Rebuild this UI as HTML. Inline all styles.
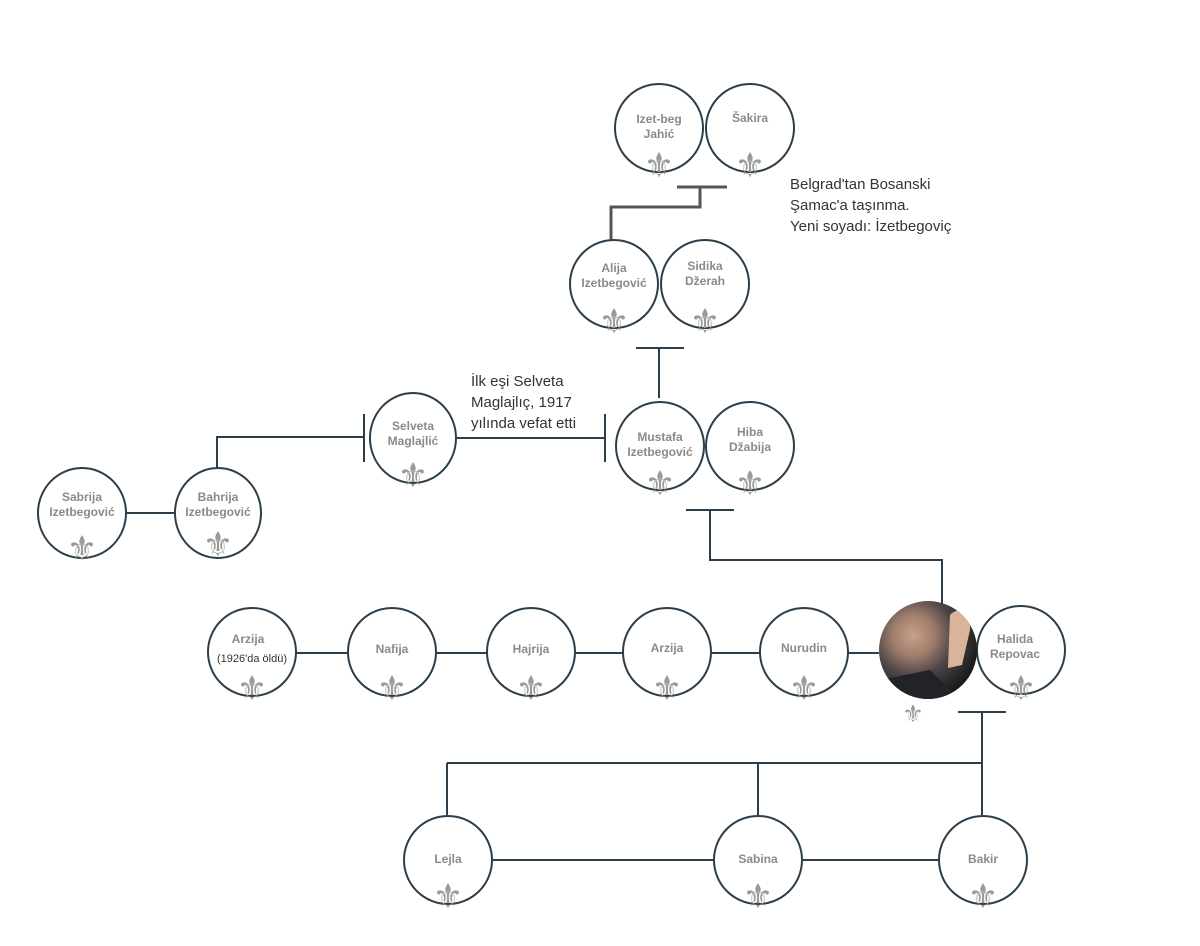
<!DOCTYPE html>
<html><head><meta charset="utf-8"><style>
html,body{margin:0;padding:0;background:#fff;}
svg{display:block}
.n{font-family:"Liberation Sans",sans-serif;font-weight:bold;font-size:12px;fill:#8a8a8a;text-anchor:middle}
.f{font-family:"DejaVu Sans",sans-serif;font-size:34px;fill:#9a9a9a;text-anchor:middle}
.t{font-family:"Liberation Sans",sans-serif;font-size:15px;fill:#333}
</style></head><body>
<svg width="1200" height="946" viewBox="0 0 1200 946" xmlns="http://www.w3.org/2000/svg">
<defs>
<radialGradient id="ph" cx="35%" cy="35%" r="70%">
<stop offset="0" stop-color="#c9a18a"/><stop offset="0.3" stop-color="#a07e6c"/><stop offset="0.6" stop-color="#4a4446"/><stop offset="1" stop-color="#18191c"/>
</radialGradient>
<clipPath id="pc"><circle cx="928" cy="650" r="49"/></clipPath>
</defs>
<g stroke="#555" stroke-width="3" fill="none">
<path d="M677 187H727M700 187V207H611V240"/>
</g>
<g stroke="#2c3e4a" stroke-width="2" fill="none">
<path d="M636 348H684M659 348V398"/>
<path d="M457 438H605M605 414V462"/>
<path d="M364 414V462M364 437H217V490"/>
<path d="M126 513H174"/>
<path d="M686 510H734M710 510V560H942V605"/>
<path d="M296 653H348M436 653H487M575 653H623M711 653H760M848 653H879"/>
<path d="M958 712H1006M982 712V815M447 763H982M447 763V815M758 763V815"/>
<path d="M492 860H714M802 860H939"/>
</g>
<g stroke="#2c3e4a" stroke-width="2" fill="#fff">
<circle cx="659" cy="128" r="44"/><circle cx="750" cy="128" r="44"/>
<circle cx="614" cy="284" r="44"/><circle cx="705" cy="284" r="44"/>
<circle cx="660" cy="446" r="44"/><circle cx="750" cy="446" r="44"/>
<ellipse cx="413" cy="438" rx="43" ry="45"/>
<ellipse cx="218" cy="513" rx="43" ry="45"/><ellipse cx="82" cy="513" rx="44" ry="45"/>
<circle cx="252" cy="652" r="44"/><circle cx="392" cy="652" r="44"/><circle cx="531" cy="652" r="44"/><circle cx="667" cy="652" r="44"/><circle cx="804" cy="652" r="44"/>
<circle cx="1021" cy="650" r="44"/>
<circle cx="448" cy="860" r="44"/><circle cx="758" cy="860" r="44"/><circle cx="983" cy="860" r="44"/>
</g>
<circle cx="928" cy="650" r="49" fill="url(#ph)"/>
<g clip-path="url(#pc)">
<path d="M950 615 C960 605 972 612 970 630 L962 665 L948 668 Z" fill="#d9b39a"/>
<path d="M880 680 L930 670 L960 700 L880 700 Z" fill="#222326"/>
</g>
<g class="n">
<text x="659" y="123">Izet-beg</text><text x="659" y="138">Jahić</text>
<text x="750" y="122">Šakira</text>
<text x="614" y="272">Alija</text><text x="614" y="287">Izetbegović</text>
<text x="705" y="270">Sidika</text><text x="705" y="285">Džerah</text>
<text x="660" y="441">Mustafa</text><text x="660" y="456">Izetbegović</text>
<text x="750" y="436">Hiba</text><text x="750" y="451">Džabija</text>
<text x="413" y="430">Selveta</text><text x="413" y="445">Maglajlić</text>
<text x="218" y="501">Bahrija</text><text x="218" y="516">Izetbegović</text>
<text x="82" y="501">Sabrija</text><text x="82" y="516">Izetbegović</text>
<text x="248" y="643">Arzija</text>
<text x="392" y="653">Nafija</text><text x="531" y="653">Hajrija</text><text x="667" y="652">Arzija</text><text x="804" y="652">Nurudin</text>
<text x="1015" y="643">Halida</text><text x="1015" y="658">Repovac</text>
<text x="448" y="863">Lejla</text><text x="758" y="863">Sabina</text><text x="983" y="863">Bakir</text>
</g>
<text x="252" y="662" style="font-family:'Liberation Sans',sans-serif;font-size:11px;fill:#333;text-anchor:middle">(1926'da öldü)</text>
<g class="f">
<text x="659" y="177">⚜</text><text x="750" y="177">⚜</text>
<text x="614" y="333">⚜</text><text x="705" y="333">⚜</text>
<text x="660" y="495">⚜</text><text x="750" y="495">⚜</text>
<text x="413" y="487">⚜</text>
<text x="218" y="556">⚜</text><text x="82" y="560">⚜</text>
<text x="252" y="700">⚜</text><text x="392" y="700">⚜</text><text x="531" y="700">⚜</text><text x="667" y="700">⚜</text><text x="804" y="700">⚜</text>
<text x="1021" y="700">⚜</text><text x="913" y="722" style="font-size:24px">⚜</text>
<text x="448" y="908">⚜</text><text x="758" y="908">⚜</text><text x="983" y="908">⚜</text>
</g>
<g class="t">
<text x="790" y="189">Belgrad'tan Bosanski</text>
<text x="790" y="210">Şamac'a taşınma.</text>
<text x="790" y="231">Yeni soyadı: İzetbegoviç</text>
<text x="471" y="386">İlk eşi Selveta</text>
<text x="471" y="407">Maglajlıç, 1917</text>
<text x="471" y="428">yılında vefat etti</text>
</g>
</svg>
</body></html>
